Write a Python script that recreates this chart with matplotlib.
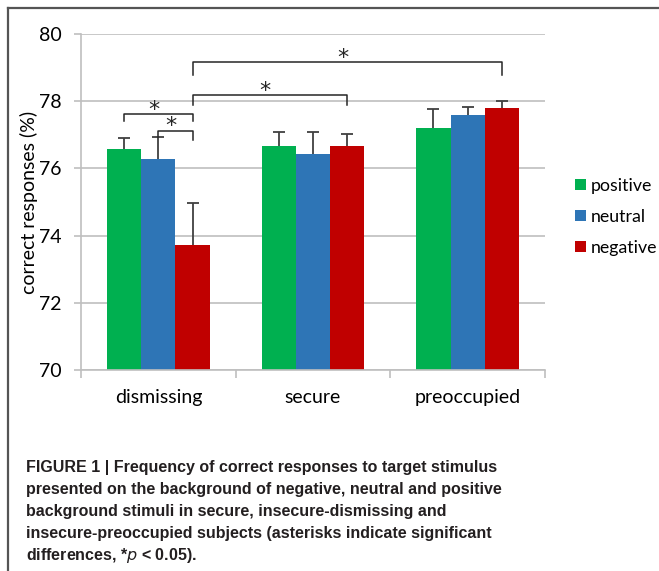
"""
Grouped bar chart of correct responses by attachment style and stimulus valence
"""
import matplotlib
matplotlib.use("Agg")
import matplotlib.pyplot as plt
import numpy as np
from matplotlib.lines import Line2D

groups = ["dismissing", "secure", "preoccupied"]
series = ["positive", "neutral", "negative"]
colors = ["#00b050", "#2e75b6", "#c00000"]

# mean and upper error bar length, one list per series
positive = [76.57, 76.67, 77.19]
neutral = [76.28, 76.43, 77.59]
negative = [73.71, 76.67, 77.80]
positive_err = [0.33, 0.40, 0.59]
neutral_err = [0.65, 0.66, 0.25]
negative_err = [1.26, 0.35, 0.20]

# significance brackets: (group, series) left end, (group, series) right end,
# bracket height, bottom of left leg, bottom of right leg
brackets = [
    ((0, 0), (0, 2), 77.61, 77.41, 77.41),
    ((0, 1), (0, 2), 77.12, 76.93, 76.85),
    ((0, 2), (1, 2), 78.18, 77.89, 77.89),
    ((0, 2), (2, 2), 79.17, 78.78, 78.78),
]

caption = [
    "FIGURE 1 | Frequency of correct responses to target stimulus",
    "presented on the background of negative, neutral and positive",
    "background stimuli in secure, insecure-dismissing and",
    "insecure-preoccupied subjects (asterisks indicate significant",
    "differences, *$\\it{p}$ < 0.05).",
]

W, H = 659, 571
plt.rcParams["font.family"] = ["Lato", "DejaVu Sans"]
fig = plt.figure(figsize=(W / 100, H / 100), dpi=100)
ax = fig.add_axes([81 / W, 1 - 370 / H, (545 - 81) / W, (370 - 34) / H])

values = [positive, neutral, negative]
errors = [positive_err, neutral_err, negative_err]
x = np.arange(len(groups))
bar_w = 0.221
grey = "#bfbfbf"
err_col = "#404040"

for i, (name, vals, errs, col) in enumerate(zip(series, values, errors, colors)):
    pos = x + (i - 1) * bar_w
    vals = np.array(vals)
    tops = vals + np.array(errs)
    ax.bar(pos, vals - 70, bar_w, bottom=70, color=col, label=name, zorder=2)
    # upper half of the error bar only
    ax.vlines(pos, vals, tops, color=err_col, lw=1.3, zorder=3)
    ax.plot(pos, tops, ls="none", marker="_", ms=9, mew=1.3, color=err_col,
            zorder=3)

for (g1, s1), (g2, s2), top, low1, low2 in brackets:
    x1 = g1 + (s1 - 1) * bar_w
    x2 = g2 + (s2 - 1) * bar_w
    ax.plot([x1, x1, x2, x2], [low1, top, top, low2], color="#262626",
            lw=1.1, zorder=4, clip_on=False)
    ax.text((x1 + x2) / 2 - 0.03, top + 0.13, "*", ha="center", va="center",
            fontsize=16, color="#262626", family="DejaVu Sans")

ax.set_xlim(-0.5, 2.5)
ax.set_ylim(70, 80)
ax.set_yticks([70, 72, 74, 76, 78, 80])
ax.yaxis.grid(True, color=grey, lw=1.2, zorder=0)
ax.set_axisbelow(True)
for side in ["top", "right"]:
    ax.spines[side].set_visible(False)
for side in ["left", "bottom"]:
    ax.spines[side].set_color(grey)
    ax.spines[side].set_linewidth(1.2)

# category labels between boundary ticks
ax.set_xticks([-0.5, 0.5, 1.5, 2.5])
ax.set_xticklabels([])
ax.set_xticks(x, minor=True)
ax.set_xticklabels(groups, minor=True)
ax.tick_params(axis="x", which="major", length=6, color=grey, width=1.2)
ax.tick_params(axis="x", which="minor", length=0, pad=14, labelsize=14)
ax.tick_params(axis="y", length=5, color=grey, width=1.2, pad=9,
               labelsize=14)
ax.set_ylabel("correct responses (%)", fontsize=14)
ax.yaxis.set_label_coords(-0.093, 0.5)

ax.legend(loc="center left", bbox_to_anchor=(575 / W, 1 - 217 / H),
          bbox_transform=fig.transFigure, frameon=False, fontsize=12.8,
          handlelength=0.6, handleheight=0.6, handletextpad=0.3,
          labelspacing=0.85, borderpad=0, borderaxespad=0)

# frame of the figure panel
fig.add_artist(Line2D([8 / W, 1], [1 - 7.5 / H] * 2, color="#555555", lw=1.6))
fig.add_artist(Line2D([8 / W] * 2, [0, 1 - 7.5 / H], color="#555555", lw=1.6))

for k, line in enumerate(caption):
    fig.text(26 / W, 1 - (472 + 22 * k) / H, line,
             family=["Liberation Sans"], fontweight="bold", fontsize=11.5,
             color="#231f20", va="baseline")

fig.savefig("out.png", dpi=100)
